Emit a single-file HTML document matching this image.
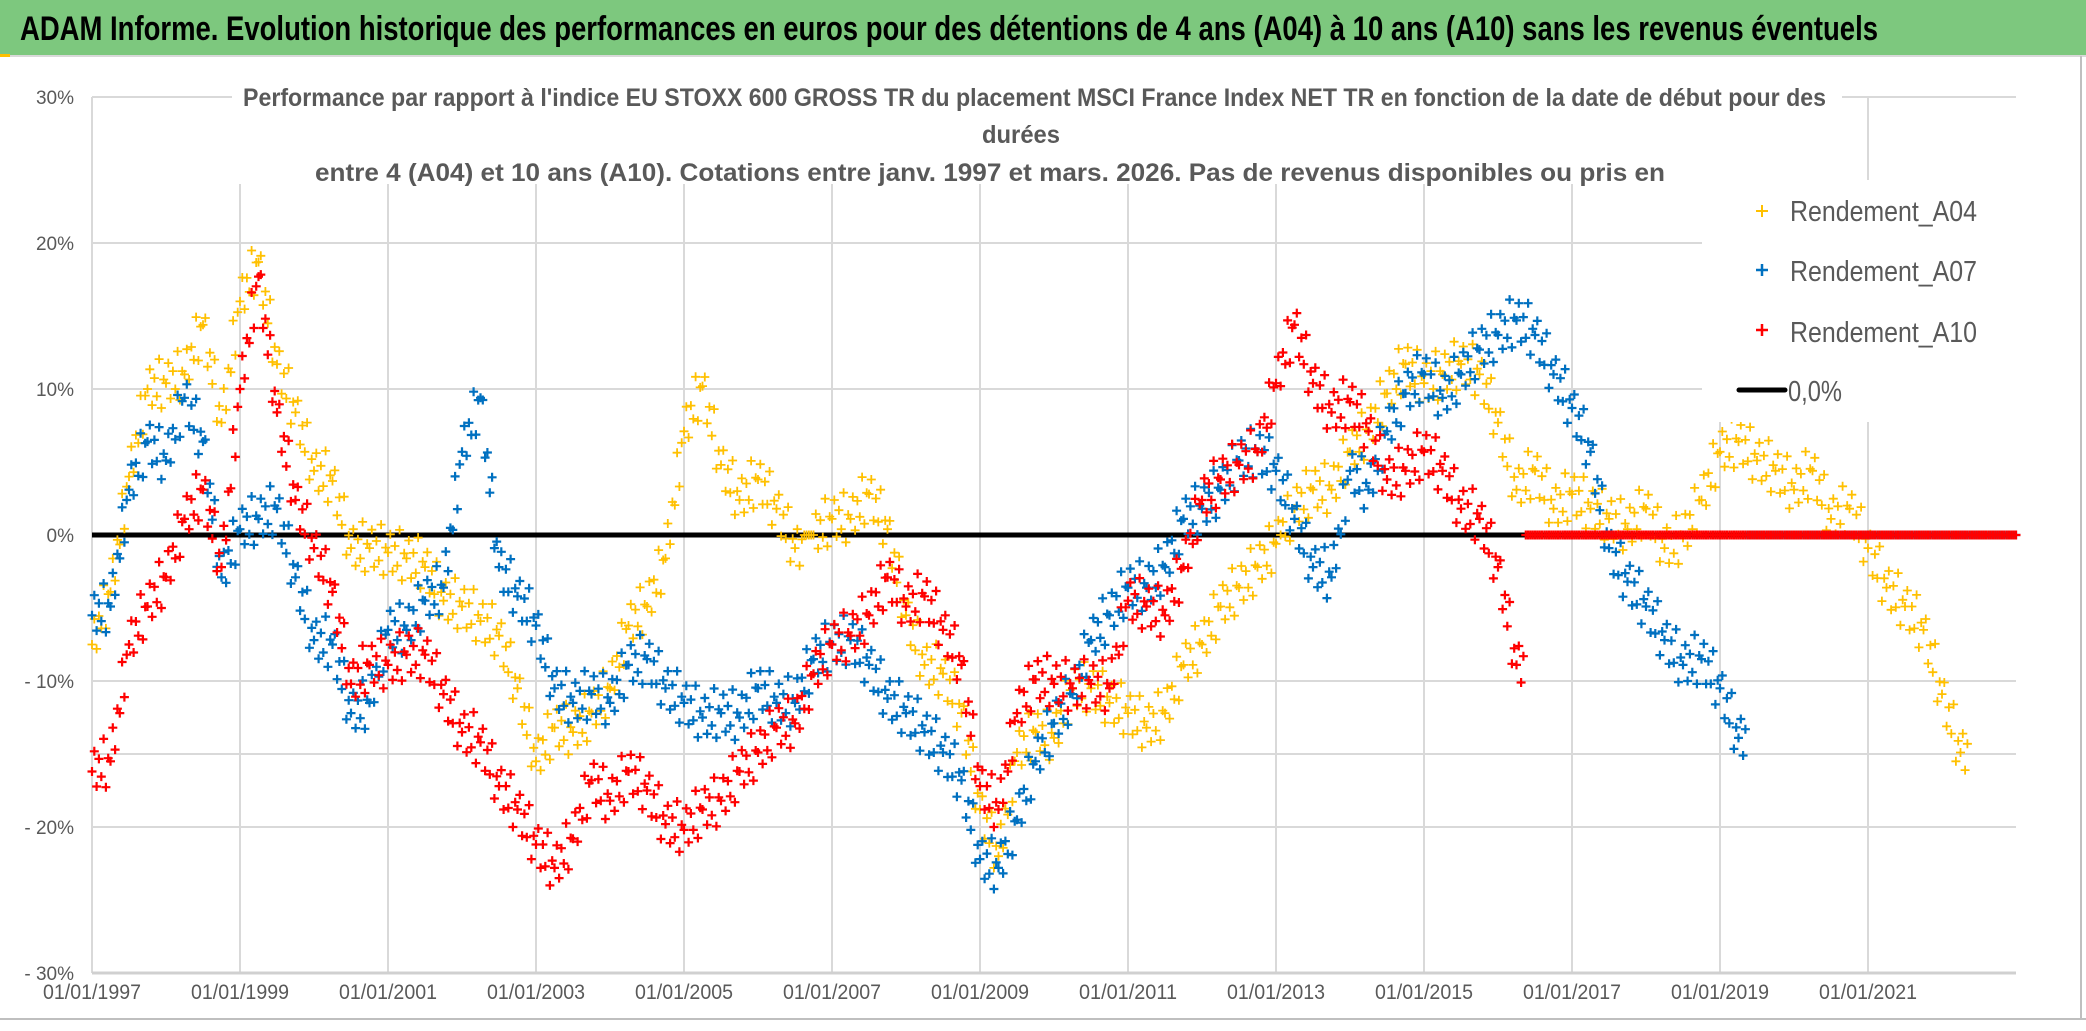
<!DOCTYPE html>
<html><head><meta charset="utf-8">
<style>
html,body{margin:0;padding:0;background:#fff;}
svg{display:block;font-family:"Liberation Sans",sans-serif;}
</style></head>
<body>
<svg id="chart" width="2086" height="1031" viewBox="0 0 2086 1031" xmlns="http://www.w3.org/2000/svg">
  <rect x="0" y="0" width="2086" height="1031" fill="#fff"/>
  <rect x="0" y="0" width="2086" height="55" fill="#7DC87E"/>
  <line x1="0" y1="56" x2="2086" y2="56" stroke="#d9d9d9" stroke-width="2"/>
  <rect x="0" y="54" width="10" height="3" fill="#FFC000"/>
  <text x="20" y="40" font-size="34" font-weight="bold" fill="#000" textLength="1858" lengthAdjust="spacingAndGlyphs">ADAM Informe. Evolution historique des performances en euros pour des détentions de 4 ans (A04) à 10 ans (A10) sans les revenus éventuels</text>
  <line x1="2081" y1="56" x2="2081" y2="1018" stroke="#bfbfbf" stroke-width="2"/>
  <line x1="0" y1="1019" x2="2086" y2="1019" stroke="#bfbfbf" stroke-width="2"/>
  <g id="grid"></g>
  <g id="yaxis"></g>
  <g id="xaxis"></g>
  <g id="marks"></g>
  <g fill="#595959" font-weight="bold" font-size="25">
    <rect x="232" y="72" width="1610" height="112" fill="#fff"/>
    <text x="243" y="106" textLength="1583" lengthAdjust="spacingAndGlyphs">Performance  par rapport à l'indice EU STOXX 600 GROSS TR  du placement MSCI France Index NET TR en fonction de la date de début pour des</text>
    <text x="1021" y="143" text-anchor="middle" textLength="78" lengthAdjust="spacingAndGlyphs">durées</text>
    <text x="315" y="181" textLength="1350" lengthAdjust="spacingAndGlyphs">entre 4 (A04) et 10 ans (A10). Cotations entre janv. 1997 et mars. 2026. Pas de revenus disponibles ou pris en</text>
  </g>
  <g id="legend">
    <rect x="1702" y="180" width="320" height="242" fill="#fff"/>
    <g>
      <path d="M1756 211h12M1762 205v12" stroke="#FFC000" stroke-width="2"/>
      <text x="1790" y="221" font-size="29" fill="#595959" textLength="187" lengthAdjust="spacingAndGlyphs">Rendement_A04</text>
    </g>
    <g>
      <path d="M1756 270h12M1762 264v12" stroke="#0070C0" stroke-width="2.5"/>
      <text x="1790" y="281" font-size="29" fill="#595959" textLength="187" lengthAdjust="spacingAndGlyphs">Rendement_A07</text>
    </g>
    <g>
      <path d="M1756 330h12M1762 324v12" stroke="#FF0000" stroke-width="2.5"/>
      <text x="1790" y="342" font-size="29" fill="#595959" textLength="187" lengthAdjust="spacingAndGlyphs">Rendement_A10</text>
    </g>
    <g>
      <line x1="1739" y1="390" x2="1785" y2="390" stroke="#000" stroke-width="5" stroke-linecap="round"/>
      <text x="1788" y="401" font-size="29" fill="#595959" textLength="54" lengthAdjust="spacingAndGlyphs">0,0%</text>
    </g>
  </g>
</svg>
<script>
// ---- data (quarterly samples, start 1997.0, step 0.25 year) ----
const startYear = 1997;
const stepYear = 0.25;
const endYear = 2023.0;
const yTicks = [30, 20, 10, 0, -10, -20, -30];
const yTickLabels = ["30%", "20%", "10%", "0%", "- 10%", "- 20%", "- 30%"];
const yGridExtra = [-15];
const xTickYears = [1997, 1999, 2001, 2003, 2005, 2007, 2009, 2011, 2013, 2015, 2017, 2019, 2021];
const xTickLabels = ["01/01/1997","01/01/1999","01/01/2001","01/01/2003","01/01/2005","01/01/2007","01/01/2009","01/01/2011","01/01/2013","01/01/2015","01/01/2017","01/01/2019","01/01/2021"];
const rendementA04 = [-7.5,-3.9,4,10,10.4,11,14.4,7.7,16,18.7,11.7,8.4,4.4,3.7,-0.9,-0.9,-1.2,-1.6,-2.2,-4.5,-4.9,-5.9,-6.9,-10.5,-15.5,-13.2,-13.5,-12.2,-10.5,-6.2,-4.9,-1.6,7.1,10.2,4.8,2.4,3.8,1.8,-0.9,0,1.1,1.1,2.8,0.4,-5.5,-8.9,-9.5,-12.2,-18.8,-22,-14.9,-13.5,-13.9,-10.5,-10.5,-11.5,-12.2,-13.2,-12.2,-8.9,-7.5,-4.9,-3.6,-2.2,-0.6,1.8,3.1,3.1,5.7,7.1,9.7,11.7,10.4,11,11.7,11,7.7,3.1,4.4,1.8,2.8,1.8,1.1,0.4,1.8,-0.9,-0.2,2.4,5.7,6.4,5.1,4.4,3.1,4.4,1.1,1.8,-0.9,-3.6,-4.9,-6.5,-10.9,-14.9,0,0,0,0];
const rendementA07 = [-5.5,-4.9,3.1,6.4,5.1,9.4,6.4,-2.9,0.4,1.1,1.8,-2.9,-7.2,-7.5,-12.2,-11.5,-6.5,-6.5,-4.5,-3.6,5.7,9.4,-2.2,-4.2,-6.2,-10.5,-11.5,-10.9,-11.5,-8.9,-8.5,-10.5,-11.5,-12.5,-12.2,-12.5,-10.5,-11.5,-11.5,-8.5,-7.5,-7.2,-8.9,-11.2,-12.2,-13.5,-14.9,-16.8,-22.2,-22.8,-19.5,-15.5,-12.9,-10.9,-7.2,-5.5,-3.6,-3.6,-2.2,1.1,1.8,3.1,5.1,5.7,4.4,1.1,-2.2,-2.9,4.4,3.1,7.1,9.7,11,9.4,11,12.7,13.7,14.7,13.7,11,8.7,5.7,-0.9,-3.2,-4.9,-7.2,-8.9,-8.5,-10.5,-13.9,0,0,0,0,0,0,0,0,0,0,0,0,0,0,0];
const rendementA10 = [-16.2,-15.5,-7.5,-4.9,-2.9,1.1,3.1,-2.2,10,17.7,8.4,2.4,-0.9,-3.9,-10.2,-8.9,-8.9,-8.2,-8.2,-10.9,-13.5,-14.2,-17.2,-18.8,-21.2,-22.8,-20.8,-16.8,-18.2,-16.2,-17.5,-19.8,-20.2,-18.8,-18.2,-16.2,-14.9,-13.2,-12.9,-9.5,-7.5,-6.9,-5.5,-2.9,-4.9,-4.2,-6.5,-8.9,-17.2,-18.8,-12.2,-9.9,-10.2,-10.5,-10.2,-10.5,-4.5,-4.9,-5.5,-2.2,2.4,3.8,4.8,5.7,10.4,14.4,10.4,8.4,9.1,7.1,3.8,4.4,5.7,4.4,1.8,1.1,-2.2,-8.9,0,0,0,0,0,0,0,0,0,0,0,0,0,0,0,0,0,0,0,0,0,0,0,0,0,0,0];
const zeroLineValue = 0;

// ---- scales ----
const X0 = 92, PX_PER_YEAR = 74, Y0 = 535, PX_PER_PCT = 14.6, X_END = 2016;
function xScale(year){ return X0 + (year - startYear) * PX_PER_YEAR; }
function yScale(v){ return Y0 - v * PX_PER_PCT; }
const NS = "http://www.w3.org/2000/svg";
function mk(tag, attrs, parent){ const e = document.createElementNS(NS, tag); for (const k in attrs) e.setAttribute(k, attrs[k]); parent.appendChild(e); return e; }

// gridlines
const grid = document.getElementById('grid');
[20, 10, -10, -20].concat(yGridExtra).forEach(v => {
  const l = mk('line', {x1: X0, x2: X_END, y1: yScale(v), y2: yScale(v), stroke: '#d9d9d9', 'stroke-width': 2}, grid);
  
  
});
const topL = mk('line', {x1: X0, x2: X_END, y1: yScale(30), y2: yScale(30), stroke: '#d9d9d9', 'stroke-width': 2}, grid);


xTickYears.forEach(yr => {
  const l = mk('line', {x1: xScale(yr), x2: xScale(yr), y1: yScale(30), y2: yScale(-30), stroke: '#d9d9d9', 'stroke-width': 2}, grid);
  
  
});
const bl = mk('line', {x1: X0, x2: X_END, y1: yScale(-30), y2: yScale(-30), stroke: '#d0d0d0', 'stroke-width': 3}, grid);



// y labels
const yaxis = document.getElementById('yaxis');
yTicks.forEach((v, i) => {
  const t = mk('text', {x: 74, y: yScale(v) + 7, 'text-anchor': 'end', 'font-size': 19, fill: '#595959'}, yaxis);
  
  
  t.textContent = yTickLabels[i];
});
// x labels
const xaxis = document.getElementById('xaxis');
xTickYears.forEach((yr, i) => {
  const t = mk('text', {x: xScale(yr), y: 999, 'text-anchor': 'middle', 'font-size': 21, fill: '#595959', textLength: 98, lengthAdjust: 'spacingAndGlyphs'}, xaxis);
  
  
  t.textContent = xTickLabels[i];
});

// marks
const marks = document.getElementById('marks');
const SUB = 8;
const OFFS = [0, 1.3, -1.2, 0.6, -0.7, 1.8, -1.6, 0.3];
function drawSeries(values, color, name, sw){
  const g = mk('g', {stroke: color, 'stroke-width': sw, fill: 'none'}, marks);
  
  
  let d = '';
  for (let i = 0; i < values.length; i++) {
    const yr = startYear + i * stepYear;
    if (yr > endYear) break;
    const v0 = values[i];
    const v1 = i + 1 < values.length ? values[i + 1] : v0;
    const toZero = (v0 !== 0 && v1 === 0);
    for (let s = 0; s < SUB; s++) {
      const f = s / SUB;
      const yrS = yr + f * stepYear;
      if (yrS > endYear) break;
      let v = toZero ? (f < 0.5 ? v0 : 0) : v0 + (v1 - v0) * f;
      if (v !== 0) v += OFFS[(i * SUB + s) % OFFS.length];
      const cx = xScale(yrS), cy = yScale(v);
      d += 'M' + (cx - 4.5).toFixed(1) + ' ' + cy.toFixed(1) + 'h9M' + cx.toFixed(1) + ' ' + (cy - 4.5).toFixed(1) + 'v9';
    }
  }
  mk('path', {d: d}, g);
}
const zl = mk('line', {x1: X0, x2: X_END, y1: yScale(zeroLineValue), y2: yScale(zeroLineValue), stroke: '#000', 'stroke-width': 5}, marks);


drawSeries(rendementA04, '#FFC000', 'series-a04', 1.8);
drawSeries(rendementA07, '#0070C0', 'series-a07', 2.2);
drawSeries(rendementA10, '#FF0000', 'series-a10', 2.2);
</script>
</body></html>
